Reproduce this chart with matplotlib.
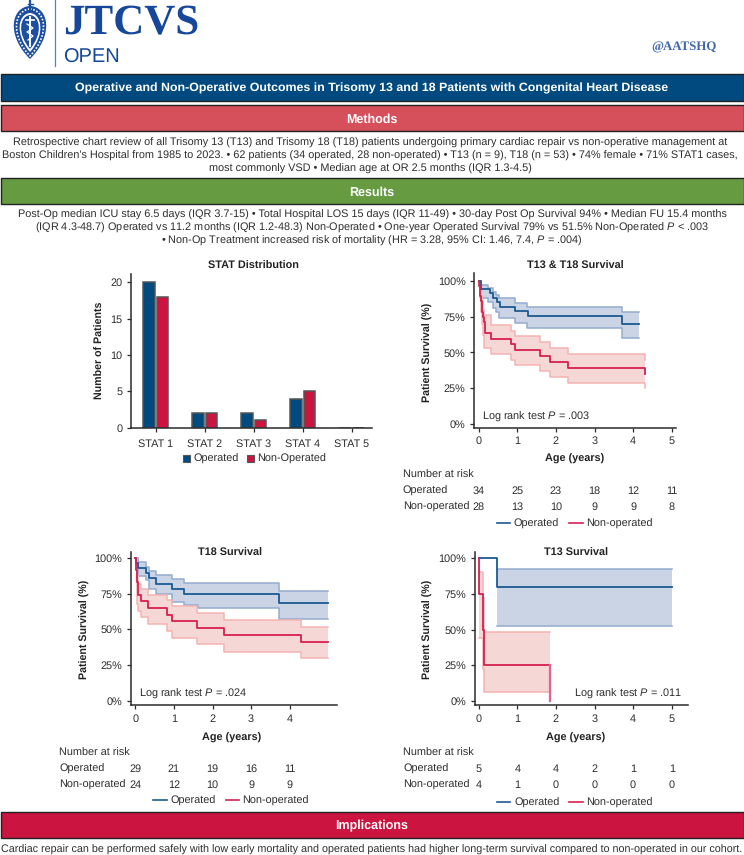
"""Graphical abstract: outcomes in Trisomy 13 and 18, bar chart plus three survival curves."""

import matplotlib
matplotlib.use('Agg')
import matplotlib.pyplot as plt
from matplotlib.patches import Rectangle, PathPatch
from matplotlib.path import Path

plt.rcParams['font.family'] = ['Liberation Sans', 'DejaVu Sans']
plt.rcParams['mathtext.fontset'] = 'custom'
plt.rcParams['mathtext.rm'] = 'Liberation Sans'
plt.rcParams['mathtext.it'] = 'Liberation Sans:italic'
plt.rcParams['text.hinting'] = 'none'

W, H = 744, 855

NAVY = '#004A80'
CRIMSON = '#CC1440'
LINE_BLUE = '#1B5A92'
LINE_RED = '#D81F50'
BAND_BLUE = '#C9D2E4'
EDGE_BLUE = '#93ABD0'
BAND_RED = '#F5D5D3'
EDGE_RED = '#F3B3B1'
DARK = '#2B2B2B'
TEXT = '#2E2E2E'

# STAT distribution
stat_labels = ['STAT 1', 'STAT 2', 'STAT 3', 'STAT 4', 'STAT 5']
stat_operated = [20, 2, 2, 4, 0]
stat_nonop = [18, 2, 1, 5, 0]

# T13 & T18 survival
all_op_t = [0, 0.05, 0.29, 0.36, 0.47, 0.55, 0.94, 1.27, 3.71, 4.16]
all_op_s = [100, 94.2, 91.4, 88.3, 85.3, 82, 78.8, 75.5, 70, 70]
all_op_band_t = [0, 0.05, 0.25, 0.36, 0.45, 0.53, 0.94, 1.26, 3.71, 4.16]
all_op_hi = [100, 97, 95, 92, 90, 88, 84.8, 82, 78.5, 78.5]
all_op_lo = [100, 88, 85, 81.4, 78, 74.3, 70.8, 66.9, 60, 60]
all_no_t = [0, 0.02, 0.04, 0.07, 0.09, 0.11, 0.13, 0.16, 0.31, 0.83, 0.94, 1.59, 1.85, 2.31, 4.31]
all_no_s = [100, 96.4, 89.3, 85.7, 78.6, 75, 71.4, 63.4, 59.7, 55.7, 51.5, 47.8, 43.4, 39, 35]
all_no_band_t = [0, 0.03, 0.06, 0.09, 0.12, 0.15, 0.31, 0.83, 0.94, 1.59, 1.85, 2.31, 4.31, 4.32]
all_no_hi = [100, 95, 90, 85, 80, 76, 69.5, 65, 61.5, 57, 53, 48.7, 45, 45]
all_no_lo = [100, 88, 78, 70, 62, 53, 49, 45, 41, 37, 33, 29, 25, 25]
all_risk_op = [34, 25, 23, 18, 12, 11]
all_risk_no = [28, 13, 10, 9, 9, 8]

# T18 survival
t18_op_t = [0, 0.03, 0.06, 0.27, 0.35, 0.54, 0.94, 1.27, 3.71, 4.98]
t18_op_s = [100, 96.5, 93, 89.3, 85.7, 82, 78.3, 74.8, 68.2, 68.2]
t18_op_band_t = [0, 0.06, 0.27, 0.35, 0.54, 0.94, 1.27, 1.62, 3.71, 4.98]
t18_op_hi = [100, 97, 94, 91, 88.3, 85, 82.2, 82.2, 77, 77]
t18_op_lo = [100, 87.4, 84.6, 78, 74.5, 69.4, 67, 64.7, 57, 57]
t18_no_t = [0, 0.02, 0.04, 0.06, 0.08, 0.15, 0.32, 0.82, 0.94, 1.59, 2.3, 4.28, 4.98]
t18_no_s = [100, 91.7, 83.3, 77.6, 74, 69.6, 65, 60.3, 55.6, 51.2, 45.8, 40.9, 40.9]
t18_no_band_t = [0, 0.04, 0.08, 0.15, 0.32, 0.82, 0.94, 1.59, 2.3, 4.28, 4.98]
t18_no_hi = [100, 88, 82, 78, 74, 70.5, 66.6, 61.7, 56.5, 51.4, 51.4]
t18_no_lo = [100, 68, 62.8, 58.4, 53.7, 48.8, 44.2, 39.5, 34.3, 29.7, 29.7]
t18_risk_op = [29, 21, 19, 16, 11]
t18_risk_no = [24, 12, 10, 9, 9]

# T13 survival
t13_op_t = [0, 0.47, 5]
t13_op_s = [100, 80, 80]
t13_op_band_t = [0.47, 5]
t13_op_hi = [92, 92]
t13_op_lo = [52.6, 52.6]
t13_no_t = [0, 0.01, 0.1, 0.14, 1.85]
t13_no_s = [100, 75, 50, 25, 25]
t13_no_band_t = [0.01, 0.1, 0.14, 1.85]
t13_no_hi = [90, 72, 48, 48]
t13_no_lo = [44, 22.5, 6.5, 6.5]
t13_last_drop = [25, 0]
t13_risk_op = [5, 4, 4, 2, 1, 1]
t13_risk_no = [4, 1, 0, 0, 0, 0]

methods_lines = [
    "Retrospective chart review of all Trisomy 13 (T13) and Trisomy 18 (T18) patients undergoing primary cardiac repair vs non-operative management at",
    "Boston Children's Hospital from 1985 to 2023. \u2022 62 patients (34 operated, 28 non-operated) \u2022 T13 (n = 9), T18 (n = 53) \u2022 74% female \u2022 71% STAT1 cases,",
    "most commonly VSD \u2022 Median age at OR 2.5 months (IQR 1.3-4.5)",
]
results_lines = [
    "Post-Op median ICU stay 6.5 days (IQR 3.7-15) \u2022 Total Hospital LOS 15 days (IQR 11-49) \u2022 30-day Post Op Survival 94% \u2022 Median FU 15.4 months",
    "(IQR 4.3-48.7) Operated vs 11.2 months (IQR 1.2-48.3) Non-Operated \u2022 One-year Operated Survival 79% vs 51.5% Non-Operated $\\mathit{P}$ < .003",
    "\u2022 Non-Op Treatment increased risk of mortality (HR = 3.28, 95% CI: 1.46, 7.4, $\\mathit{P}$ = .004)",
]
implications = "Cardiac repair can be performed safely with low early mortality and operated patients had higher long-term survival compared to non-operated in our cohort."

fig = plt.figure(figsize=(W / 100, H / 100), dpi=100, facecolor='white')

# page layer in pixel coordinates, y going down
bg = fig.add_axes([0, 0, 1, 1])
bg.set_xlim(0, W)
bg.set_ylim(H, 0)
bg.axis('off')


def px_axes(left, right, top, bottom):
    ax = fig.add_axes([left / W, 1 - bottom / H, (right - left) / W, (bottom - top) / H])
    ax.patch.set_alpha(0)
    for side in ['top', 'right']:
        ax.spines[side].set_visible(False)
    for side in ['left', 'bottom']:
        ax.spines[side].set_linewidth(1.1)
        ax.spines[side].set_color(DARK)
    ax.tick_params(length=3.2, width=0.9, color=DARK, labelsize=7.8, labelcolor=TEXT, pad=3)
    return ax


def page_text(x, y, s, size=7.8, color=TEXT, ha='left', **kw):
    # y is the middle of the capitals, so rows with and without descenders line up
    if 'rotation' in kw:
        bg.text(x, y, s, fontsize=size, color=color, ha=ha, va='center', **kw)
    else:
        bg.text(x, y + size * 0.5, s, fontsize=size, color=color, ha=ha, va='baseline', **kw)


def banner(top, bottom, color, label, size=9.0):
    bg.add_patch(Rectangle((0.5, top), W - 1, bottom - top, facecolor=color, edgecolor='#222222', linewidth=1))
    page_text(W / 2, (top + bottom) / 2, label, size=size, color='white', ha='center', fontweight='bold')


def draw_logo():
    bg.plot([55.3, 55.3], [0, 66], color='#5E7EB8', lw=0.9)
    page_text(63, 19, 'JTCVS', size=31, color='#16479A', family='Liberation Serif', fontweight='bold')
    page_text(63, 55.5, 'OPEN', size=14.4, color='#16479A')
    page_text(651.5, 46, '@AATSHQ', size=9.3, color='#3E66A8', family='Liberation Serif', fontweight='bold')
    # crest: nested shields with the staff inside
    shield = lambda cx, top, half, bot: Path(
        [(cx, top), (cx + half * 0.9, top + 1), (cx + half * 1.15, top + (bot - top) * 0.55), (cx, bot),
         (cx - half * 1.15, top + (bot - top) * 0.55), (cx - half * 0.9, top + 1), (cx, top)],
        [Path.MOVETO, Path.CURVE4, Path.CURVE4, Path.CURVE4, Path.CURVE4, Path.CURVE4, Path.CURVE4])
    bg.add_patch(PathPatch(shield(30, 6, 21, 59), facecolor='#1C4FA0', edgecolor='none'))
    bg.add_patch(PathPatch(shield(30, 9, 17.5, 56), facecolor='none', edgecolor='white', lw=1.2, linestyle=(0, (1, 1))))
    bg.add_patch(PathPatch(shield(30, 13, 13.5, 52), facecolor='white', edgecolor='none'))
    bg.add_patch(PathPatch(shield(30, 15, 11.5, 49), facecolor='#1C4FA0', edgecolor='none'))
    bg.plot([30, 30], [1, 9], color='#1C4FA0', lw=1.6)
    bg.plot([27.5, 32.5], [4, 4], color='#1C4FA0', lw=1.0)
    bg.plot([30, 30], [17, 46], color='white', lw=1.4)
    bg.plot([26, 34], [20, 20], color='white', lw=1.2)
    bg.plot([27, 33, 27, 33, 28], [24, 28, 32, 36, 40], color='white', lw=0.9)


def km_panel(left, right, top, bottom, x0, y100, y0, xticks, title, title_x, title_y,
             age_x, age_y, op, no, risk_op, risk_no, risk_left, risk_ys, legend_xs,
             legend_y, logrank, logrank_xy, logrank_ha, end_drop=None):
    per_year = 38.6
    per_pct = (y0 - y100) / 100
    ax = px_axes(left, right, top, bottom)
    ax.set_xlim((left - x0) / per_year, (right - x0) / per_year)
    ax.set_ylim((y0 - bottom) / per_pct, (y0 - top) / per_pct)
    ax.set_xticks(xticks)
    ax.set_yticks([0, 25, 50, 75, 100])
    ax.set_yticklabels(['0%', '25%', '50%', '75%', '100%'])

    for curve, band, edge, line in [(op, BAND_BLUE, EDGE_BLUE, LINE_BLUE), (no, BAND_RED, EDGE_RED, LINE_RED)]:
        t, s, bt, hi, lo = curve
        ax.fill_between(bt, lo, hi, step='post', color=band, linewidth=0, alpha=0.95)
        ax.step(bt, hi, where='post', color=edge, lw=1.1)
        ax.step(bt, lo, where='post', color=edge, lw=1.1)
    for curve, line in [(op, LINE_BLUE), (no, LINE_RED)]:
        ax.step(curve[0], curve[1], where='post', color=line, lw=1.3)
    if end_drop is not None:
        ax.plot([no[0][-1], no[0][-1]], end_drop, color='#E4628C', lw=1.6)

    page_text(title_x, title_y, title, size=7.8, ha='center', fontweight='bold', color='#222222')
    page_text(age_x, age_y, 'Age (years)', size=7.8, ha='center', fontweight='bold', color='#222222')
    page_text(left - 46.5, (y100 + y0) / 2, 'Patient Survival (%)', size=7.7, ha='center',
              rotation=90, fontweight='bold', color='#222222')
    page_text(logrank_xy[0], logrank_xy[1], 'Log rank test $\\mathit{P}$ = ' + logrank, ha=logrank_ha)

    page_text(risk_left, risk_ys[0], 'Number at risk')
    page_text(risk_left, risk_ys[1], 'Operated')
    page_text(risk_left, risk_ys[2], 'Non-operated')
    for yr, (a, b) in enumerate(zip(risk_op, risk_no)):
        page_text(x0 + yr * per_year, risk_ys[1], str(a), ha='center')
        page_text(x0 + yr * per_year, risk_ys[2], str(b), ha='center')

    x1, x2, x3, x4 = legend_xs
    bg.plot([x1, x1 + 13.5], [legend_y, legend_y], color=LINE_BLUE, lw=1.2)
    page_text(x2, legend_y, 'Operated')
    bg.plot([x3, x3 + 13.5], [legend_y, legend_y], color=LINE_RED, lw=1.2)
    page_text(x4, legend_y, 'Non-operated')


draw_logo()
banner(74, 101, NAVY, 'Operative and Non-Operative Outcomes in Trisomy 13 and 18 Patients with Congenital Heart Disease', size=8.9)
banner(105, 131, '#D6505C', 'Methods')
banner(178, 204, '#669B41', 'Results')
banner(812, 838, CRIMSON, 'Implications')

for y, line in zip([141.7, 154.7, 167.7], methods_lines):
    page_text(W / 2 - 2, y, line, size=7.8, ha='center')
for y, line in zip([214, 227, 240], results_lines):
    page_text(W / 2, y, line, size=7.8, ha='center')
page_text(W / 2, 848.5, implications, size=7.78, ha='center')

# STAT distribution
ax = px_axes(131, 372, 274, 427.7)
ax.set_xlim((131 - 155.7) / 49, (372 - 155.7) / 49)
ax.set_ylim(0, (427.7 - 274) / 7.27)
x = list(range(len(stat_labels)))
ax.bar([i - 0.14 for i in x], stat_operated, width=0.235, color=NAVY, edgecolor='#555555', linewidth=1.1)
ax.bar([i + 0.14 for i in x], stat_nonop, width=0.235, color=CRIMSON, edgecolor='#555555', linewidth=1.1)
ax.set_xticks(x)
ax.set_xticklabels(stat_labels)
ax.set_yticks([0, 5, 10, 15, 20])
ax.tick_params(axis='x', pad=5)
page_text(253, 265, 'STAT Distribution', ha='center', fontweight='bold', color='#222222')
page_text(100, 350.7, 'Number of Patients', size=7.7, ha='center', rotation=90, fontweight='bold', color='#222222')
bg.add_patch(Rectangle((182.7, 454.5), 7.3, 7, facecolor=NAVY, edgecolor='#555555', linewidth=0.8))
page_text(193.3, 458, 'Operated')
bg.add_patch(Rectangle((246.7, 454.5), 7.3, 7, facecolor=CRIMSON, edgecolor='#555555', linewidth=0.8))
page_text(257.3, 458, 'Non-Operated')

km_panel(474.3, 676, 273, 427.7, 478.7, 281, 424, [0, 1, 2, 3, 4, 5], 'T13 & T18 Survival', 575, 265,
         575, 458, (all_op_t, all_op_s, all_op_band_t, all_op_hi, all_op_lo),
         (all_no_t, all_no_s, all_no_band_t, all_no_hi, all_no_lo),
         all_risk_op, all_risk_no, 402.7, [474.3, 490, 506], (496.7, 513.3, 569, 586), 522.7,
         '.003', (482.3, 415.7), 'left')

km_panel(131, 336.7, 552, 705, 135.3, 558, 700.7, [0, 1, 2, 3, 4], 'T18 Survival', 230, 552,
         232, 736.7, (t18_op_t, t18_op_s, t18_op_band_t, t18_op_hi, t18_op_lo),
         (t18_no_t, t18_no_s, t18_no_band_t, t18_no_hi, t18_no_lo),
         t18_risk_op, t18_risk_no, 59, [752, 768, 784], (153, 170, 225.7, 242), 800,
         '.024', (139, 693), 'left')

km_panel(474.7, 688, 552, 705, 478.7, 558, 701, [0, 1, 2, 3, 4, 5], 'T13 Survival', 575.7, 552,
         575.7, 736.7, (t13_op_t, t13_op_s, t13_op_band_t, t13_op_hi, t13_op_lo),
         (t13_no_t, t13_no_s, t13_no_band_t, t13_no_hi, t13_no_lo),
         t13_risk_op, t13_risk_no, 403.3, [752, 768, 784], (496.7, 514, 569, 586), 802,
         '.011', (681.7, 693), 'right', end_drop=t13_last_drop)

fig.savefig('out.png', dpi=100)
